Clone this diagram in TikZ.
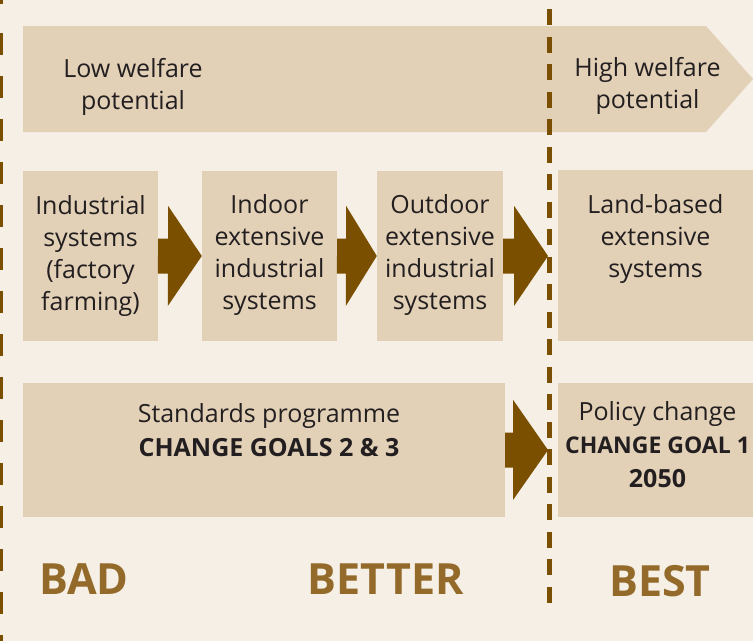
\documentclass[tikz,border=0pt]{standalone}
\usepackage{fontspec}
\setmainfont{Open Sans}
\definecolor{bgc}{RGB}{246,239,229}
\definecolor{boxc}{RGB}{226,209,183}
\definecolor{arrc}{RGB}{122,80,0}
\definecolor{labc}{RGB}{147,106,42}
\definecolor{txtc}{RGB}{35,31,32}
\tikzset{
  box/.style={fill=boxc, inner sep=0pt, draw=none},
  txt/.style={anchor=base, align=center, inner sep=0pt, text=txtc, font=\fontsize{25}{32}\selectfont},
  lab/.style={anchor=base, inner sep=0pt, text=labc, font=\fontsize{43}{50}\selectfont\bfseries},
  dashline/.style={draw=arrc, line width=5pt},
}
\newcommand\brarrow[4]{%
  \fill[arrc] (#1) ++(0,-17.5) -- ++(#3,0) -- ++(0,-32.5) -- (#2) -- ++(-#4,50) -- ++(0,-32.5) -- ++(-#3,0) -- cycle;}
\begin{document}
\begin{tikzpicture}[x=1pt,y=-1pt]
\useasboundingbox (0,0) rectangle (753,641);
\fill[bgc] (0,0) rectangle (753,641);
% banner
\fill[boxc] (23,26) -- (706,26) -- (753,79) -- (706,132) -- (23,132) -- cycle;
% boxes
\node[box, minimum width=135pt, minimum height=170pt] (b1) at (90.5,256) {};
\node[box, minimum width=135pt, minimum height=170pt] (b2) at (269.5,256) {};
\node[box, minimum width=126pt, minimum height=170pt] (b3) at (440,256) {};
\node[box, minimum width=195pt, minimum height=171pt] (b4) at (655.5,255.5) {};
\node[box, minimum width=482pt, minimum height=134pt] (b5) at (264,450) {};
\node[box, minimum width=195pt, minimum height=134pt] (b6) at (655.5,450) {};
\coordinate (t3) at (548,256);
\coordinate (t4) at (548,450);
% arrows
\brarrow{b1.east}{b2.west}{10}{34}
\brarrow{b2.east}{b3.west}{9}{31}
\brarrow{b3.east}{t3}{11}{34}
\brarrow{b5.east}{t4}{8}{35}
% dashed lines
\coordinate (m1) at (549,9);
\coordinate (m2) at (549,603);
\draw[dashline, dash pattern=on 16pt off 11.5pt] (m1) -- (m2);
\coordinate (l0) at (0,0);
\coordinate (l1) at (0,4);
\coordinate (l2) at (0,33.3);
\coordinate (l3) at (0,641);
\draw[dashline, line width=5.4pt] (l0) -- (l1);
\draw[dashline, line width=5.4pt, dash pattern=on 21.7pt off 21.3pt] (l2) -- (l3);
% texts (anchor base = baseline of last line)
\node[txt] (tlow) at (133,109) {Low welfare\\potential};
\node[txt] (thigh) at (647.5,108) {High welfare\\potential};
\node[txt] (tb1) at (90.5,310) {Industrial\\systems\\(factory\\farming)};
\node[txt] (tb2) at (269.5,309) {Indoor\\extensive\\industrial\\systems};
\node[txt] (tb3) at (440,309) {Outdoor\\extensive\\industrial\\systems};
\node[txt] (tb4) at (655.5,277) {Land-based\\extensive\\systems};
\node[txt, font=\fontsize{25}{34}\selectfont] (tb5) at (269,456) {Standards programme\\\textbf{CHANGE GOALS 2 \& 3}};
\node[txt, font=\fontsize{25}{33.5}\selectfont] (tb6) at (657.5,487) {Policy change\\\fontsize{23}{33.5}\selectfont\textbf{CHANGE GOAL 1}\\\textbf{2050}};
\node[lab] (bad) at (84,594) {BAD};
\node[lab] (better) at (385.5,594) {BETTER};
\node[lab] (best) at (660,596) {BEST};
\end{tikzpicture}
\end{document}
